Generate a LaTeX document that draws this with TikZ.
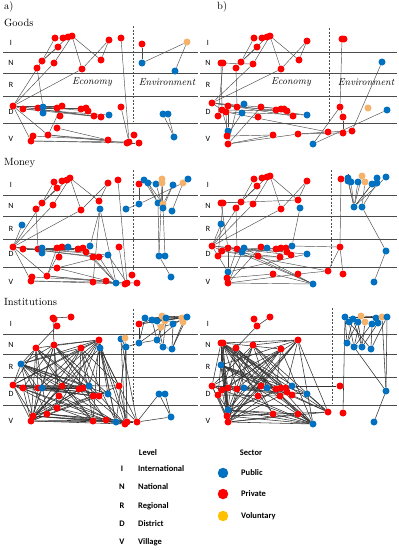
\documentclass[tikz,border=0pt]{standalone}
\usepackage{fontspec}
\newfontfamily\carl{Carlito}
\pgfdeclarelayer{bg}
\pgfsetlayers{bg,main}
\definecolor{pu}{HTML}{0070C0}
\definecolor{pr}{HTML}{FF0000}
\definecolor{vo}{HTML}{F5B26B}
\definecolor{voleg}{HTML}{FFC000}
\begin{document}
\begin{tikzpicture}[x=1pt,y=-1pt,
  dot/.style={circle,inner sep=0pt,minimum size=7pt},
  lnk/.style={draw=black!70,line width=0.45pt},
  lnkd/.style={draw=black!80,line width=0.55pt},
  lvl/.style={draw=black!70,line width=0.75pt},
  dsh/.style={draw=black!70,line width=0.5pt,dash pattern=on 2pt off 1.5pt},
  lvltxt/.style={font=\carl\fontsize{8}{9}\selectfont,inner sep=0pt},
  head/.style={font=\fontsize{10.5}{12}\selectfont,anchor=west,inner sep=0pt},
  area/.style={font=\itshape\fontsize{10}{12}\selectfont,inner sep=0pt},
  legtxt/.style={font=\carl\bfseries\fontsize{8.5}{10}\selectfont,inner sep=0pt}]
\useasboundingbox (0,0) rectangle (399,550);

% headings
\node[head] (ha) at (4,7) {a)};
\node[head] (hb) at (217,7) {b)};
\node[head] (hg) at (4,22.5) {Goods};
\node[head] (hm) at (4,163) {Money};
\node[head] (hi) at (4,302) {Institutions};

% level labels
\foreach \xl/\p in {11/a,208/b}{
  \foreach \r/\yI/\yN/\yR/\yD/\yV in {g/43/63/85/112/139, m/185/206/229/254/282, i/324/345/367/394/421}{
    \node[lvltxt] (L\p\r I) at (\xl,\yI) {I};
    \node[lvltxt] (L\p\r N) at (\xl,\yN) {N};
    \node[lvltxt] (L\p\r R) at (\xl,\yR) {R};
    \node[lvltxt] (L\p\r D) at (\xl,\yD) {D};
    \node[lvltxt] (L\p\r V) at (\xl,\yV) {V};
  }
}
\node[area] (eca) at (92,82) {Economy};
\node[area] (ena) at (167,82) {Environment};
\node[area] (ecb) at (291,82) {Economy};
\node[area] (enb) at (366,82) {Environment};

% ---------- nodes ----------
\foreach \x/\y/\c [count=\i] in {55/38/pr,63/38/pr,68/37/pr,72/36/pr,58/47/pr,109/40/pr,121/38/pr,42/61/pr,37/68/pr,54/63/pr,101/60/pr,82/69/pr,13/106/pr,23/109/pr,38/108/pr,43/107/pu,43/113/pu,57/108/pr,62/106/pr,60/116/pr,81/109/pr,86/108/pr,88/111/pr,94/116/pr,101/117/pr,109/115/pu,121/107/pr,57/128/pr,48/135/pr,33/136/pr,31/141/pr,108/140/pr,127/143/pr,129/142/pr,134/135/pr,139/143/pr,142/44/pr,187/42/vo,142/63/pu,175/71/pu,163/114/pu,168/114/pu,174/137/pu}
  \node[dot,fill=\c] (ga\i) at (\x,\y) {};

\foreach \x/\y/\c [count=\i] in {254/38/pr,262/38/pr,267/37/pr,270/36/pr,257/47/pr,307/41/pr,241/62/pr,236/68/pr,253/64/pr,299/60/pr,281/69/pr,221/63/pr,223/63/pr,212/103/pr,244/104/pu,242/113/pu,222/110/pr,218/116/pr,228/106/pr,226/112/pr,237/107/pr,261/107/pr,258/117/pr,276/110/pr,281/109/pr,284/109/pr,287/111/pr,293/116/pr,307/115/pu,228/131/pu,227/136/pr,228/144/pr,273/135/pr,298/134/pr,328/132/pr,342/39/pr,344/39/pr,382/62/pu,340/107/pr,368/108/vo,343/117/pr,387/110/pu,343/133/pr,352/131/pr,313/144/pu}
  \node[dot,fill=\c] (gb\i) at (\x,\y) {};

\foreach \x/\y/\c [count=\i] in {54/182/pr,62/181/pr,67/180/pr,70/178/pr,57/188/pr,108/183/pr,118/180/pr,42/203/pr,36/209/pr,53/205/pr,99/201/pr,81/210/pr,100/209/pu,22/225/pu,13/247/pr,23/249/pr,38/249/pr,42/248/pu,42/253/pu,57/248/pr,62/247/pr,68/247/pu,59/257/pr,78/249/pr,83/248/pr,86/252/pr,90/246/pu,93/257/pr,99/257/pr,108/255/pu,119/247/pr,57/268/pr,47/276/pr,32/277/pr,31/281/pr,93/282/pr,106/281/pr,116/283/pu,125/284/pr,127/283/pr,132/275/pr,137/283/pr,139/184/pr,144/180/pu,148/183/pu,156/184/pu,162/179/vo,162/183/vo,173/185/pu,183/183/vo,188/179/pu,139/204/pu,126/209/pu,158/203/pu,163/204/vo,163/208/pu,172/211/pu,159/256/pu,165/256/pu,171/277/pu}
  \node[dot,fill=\c] (ma\i) at (\x,\y) {};

\foreach \x/\y/\c [count=\i] in {254/179/pr,262/178/pr,267/177/pr,270/176/pr,257/186/pr,307/181/pr,221/203/pr,223/203/pr,241/202/pr,236/208/pr,253/204/pr,298/200/pr,281/209/pr,300/208/pu,221/224/pu,212/246/pr,222/251/pr,218/256/pr,228/248/pr,237/249/pr,244/248/pu,242/252/pu,261/247/pr,267/248/pu,258/256/pr,276/249/pr,281/248/pr,286/248/pr,287/252/pr,280/257/pr,291/255/pr,292/246/pu,307/254/pu,228/272/pu,227/278/pr,228/283/pr,273/274/pr,298/274/pr,328/271/pr,313/284/pu,341/179/pr,348/178/pu,348/181/pu,351/182/pu,358/182/pu,362/176/vo,365/182/vo,372/184/pu,377/178/pu,377/183/pu,386/177/pu,354/207/pu,362/207/pu,340/247/pr,343/274/pr,386/251/pu,374/282/pu}
  \node[dot,fill=\c] (mb\i) at (\x,\y) {};

\foreach \x/\y/\c [count=\i] in {53/318/pr,54/319/pr,57/326/pr,71/317/pr,36/348/pr,54/345/pr,81/348/pr,99/340/pr,100/348/pu,121/339/pu,125/338/vo,126/347/pu,21/364/pu,13/385/pr,23/388/pr,38/388/pr,42/388/pu,62/386/pr,59/396/pr,79/389/pr,83/388/pr,89/386/pu,93/396/pr,99/396/pr,108/394/pu,119/386/pr,57/408/pr,47/414/pr,33/416/pr,31/421/pr,93/421/pr,106/420/pr,116/422/pu,125/424/pr,127/422/pr,137/422/pr,139/324/pr,145/318/pu,152/320/pu,157/321/pu,162/316/vo,165/321/vo,161/327/vo,166/318/pu,173/324/pu,182/318/vo,183/322/vo,187/317/pu,139/343/pu,157/340/pu,163/347/pu,172/349/pu,159/394/pu,165/394/pu,171/417/pu}
  \node[dot,fill=\c] (ia\i) at (\x,\y) {};

\foreach \x/\y/\c [count=\i] in {254/319/pr,270/317/pr,257/326/pr,221/343/pr,223/343/pr,236/348/pr,253/345/pr,281/349/pr,298/340/pr,221/365/pu,212/386/pr,218/395/pr,222/390/pr,228/388/pr,237/389/pr,244/388/pu,261/386/pr,267/388/pu,258/396/pr,276/389/pr,281/388/pr,286/388/pr,287/392/pr,280/396/pr,292/395/pr,292/386/pu,307/394/pu,228/410/pu,227/416/pr,228/422/pr,273/414/pr,298/414/pr,328/412/pr,313/424/pu,345/317/pu,349/322/pu,353/319/pu,358/322/pu,361/316/vo,365/322/vo,372/324/pu,376/318/pu,378/323/pu,382/317/vo,387/317/pu,347/343/pu,354/347/pu,362/347/pu,371/349/pu,340/386/pr,343/413/pr,386/391/pu,374/422/pu}
  \node[dot,fill=\c] (ib\i) at (\x,\y) {};

% legend
\node[legtxt] (levhd) at (148,453) {Level};
\foreach \t/\n/\y in {I/International/469,N/National/487,R/Regional/506,D/District/524,V/Village/542}{
  \node[legtxt] (lk\t) at (122,\y) {\t};
  \node[legtxt,anchor=west] (lt\t) at (138,\y) {\n};
}
\node[legtxt] (sechd) at (251,453) {Sector};
\node[dot,minimum size=10.5pt,fill=pu] (sdu) at (223,473) {};
\node[legtxt,anchor=west] (stu) at (241,473) {Public};
\node[dot,minimum size=10.5pt,fill=pr] (sdr) at (223,494) {};
\node[legtxt,anchor=west] (str) at (241,494) {Private};
\node[dot,minimum size=10.5pt,fill=voleg] (sdv) at (223,516) {};
\node[legtxt,anchor=west] (stv) at (241,516) {Voluntary};

\begin{pgfonlayer}{bg}
% level lines
\foreach \xa/\xb in {3/198,200/397}{
  \foreach \yy in {52,73,96,123,195,216,239,267,334,354,377,405}
    \draw[lvl] (\xa,\yy) -- (\xb,\yy);
}
% dashed separators
\draw[dsh] (133,26) -- (133,122);
\draw[dsh] (329,28) -- (329,122);
\draw[dsh] (133,170) -- (133,275);
\draw[dsh] (331,170) -- (331,265);
\draw[dsh] (133,309) -- (133,403);
\draw[dsh] (332,308) -- (332,403);

% ---------- edges ----------
\foreach \a/\b in {1/8,3/8,5/8,4/10,4/12,4/11,6/11,6/12,12/13,10/13,8/13,9/16,7/34,27/34,13/14,13/21,13/24,13/25,14/26,15/22,16/23,13/29,13/31,29/19,29/32,29/33,31/33,30/32,28/32,31/34,33/36,37/39,39/38,38/40,41/43,42/43,14/25,13/19}
  \draw[lnk] (ga\a) -- (ga\b);

\foreach \a/\b in {1/7,3/7,5/7,4/9,4/11,4/10,6/10,6/11,11/14,9/14,12/9,13/18,12/17,8/21,14/17,14/28,14/29,19/24,17/27,20/29,20/35,30/19,31/20,32/21,32/22,32/33,32/34,31/33,34/35,35/44,36/39,38/44,39/45,42/45,41/43,39/41,31/16,30/17,22/25,14/26,43/34}
  \draw[lnk] (gb\a) -- (gb\b);

\foreach \a/\b in {1/8,3/8,5/8,4/10,4/12,4/11,6/11,6/12,12/15,10/15,8/15,9/17,14/15,7/40,31/39,13/27,13/38,13/36,15/16,15/29,15/30,15/28,16/24,17/26,18/25,15/33,15/35,33/21,33/37,33/38,35/39,34/37,35/36,32/38,36/42,32/30,28/38,26/38,33/20,29/38,30/40,43/52,53/52,44/54,45/55,46/56,47/56,48/58,49/56,50/52,50/57,51/50,49/55,48/59,58/60,54/58,43/44,45/54,44/46}
  \draw[lnk] (ma\a) -- (ma\b);

\foreach \a/\b in {1/9,3/9,5/9,4/11,4/13,4/12,6/12,6/13,13/16,11/16,7/9,8/18,7/19,9/16,10/20,15/16,14/32,16/17,16/31,16/33,19/29,17/30,20/28,16/34,34/19,35/20,36/21,36/23,35/37,36/38,36/40,19/40,20/40,17/39,37/40,38/39,21/40,39/54,41/54,54/55,32/54,42/52,43/52,44/52,45/52,46/52,47/53,48/52,49/52,50/53,51/52,53/56,56/57,42/43,34/33,18/30,22/27,12/7}
  \draw[lnk] (mb\a) -- (mb\b);

\foreach \a/\b in {1/4,2/3,3/5,1/6,8/5,8/6,8/7,8/13,8/14,8/17,8/20,8/24,8/27,8/30,8/33,8/35,8/31,9/33,9/34,9/25,9/26,9/22,9/36,9/29,10/34,12/35,11/35,10/12,12/33,10/36,5/13,5/14,5/16,5/18,5/21,5/24,5/28,5/30,5/31,6/13,6/15,6/17,6/19,6/22,6/25,6/29,6/32,6/34,6/27,7/14,7/16,7/18,7/20,7/23,7/26,7/29,7/31,7/33,7/13,13/14,13/16,13/18,13/20,13/22,13/24,13/25,13/29,13/31,13/33,13/28,14/15,14/17,14/20,14/21,14/23,14/25,14/26,14/27,14/29,14/30,14/32,14/34,15/22,15/24,15/30,16/21,16/25,16/29,17/23,17/30,18/31,18/30,19/29,19/33,20/30,21/34,22/30,23/29,24/30,25/36,26/35,26/30,21/29,20/32,27/31,27/33,28/32,28/34,29/31,29/33,29/35,30/32,30/34,30/36,27/29,28/36,31/35,33/36,36/53,36/55,53/55,54/55,37/38,37/41,37/46,37/48,37/49,38/40,38/44,38/48,39/50,39/47,40/51,41/46,42/50,43/49,44/51,45/52,46/50,47/52,48/52,49/50,49/38,50/51,51/52,43/45,12/49,41/48,39/46}
  \draw[lnkd] (ia\a) -- (ia\b);

\foreach \a/\b in {1/3,2/3,3/6,4/10,4/11,4/14,4/17,4/20,4/24,4/28,4/29,4/30,4/33,4/31,4/9,5/12,5/15,5/19,5/22,5/27,5/30,5/34,5/28,5/8,6/13,6/16,6/21,6/25,6/29,6/32,6/31,7/11,7/14,7/18,7/23,7/28,7/30,7/33,7/26,8/12,8/15,8/20,8/28,8/30,8/34,8/11,9/10,9/13,9/17,9/22,9/29,9/33,9/34,9/7,9/30,10/14,10/18,10/21,10/27,10/30,10/33,10/34,10/28,10/17,11/13,11/20,11/22,11/27,11/29,11/30,11/34,12/24,12/28,13/26,13/30,14/25,14/29,15/27,15/30,16/28,17/30,18/34,19/29,20/30,21/34,22/28,23/30,24/34,25/33,26/50,27/33,12/30,14/34,28/31,28/32,28/34,29/31,29/33,29/34,30/32,30/34,30/33,31/34,32/34,35/51,35/46,35/36,36/47,37/48,38/46,39/47,40/48,41/49,42/47,43/48,44/52,45/52,47/52,52/53,36/49,38/48,35/45,39/44,46/48,45/49,37/46}
  \draw[lnkd] (ib\a) -- (ib\b);
\end{pgfonlayer}
\end{tikzpicture}
\end{document}
